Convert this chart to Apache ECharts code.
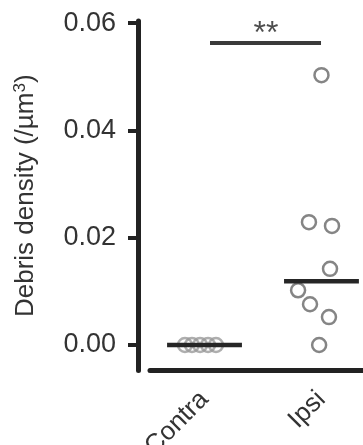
<!DOCTYPE html>
<html>
<head>
<meta charset="utf-8">
<script src="https://cdn.jsdelivr.net/npm/echarts@6/dist/echarts.min.js"></script>
<style>
html,body{margin:0;padding:0;background:#fff;}
#c{width:363px;height:445px;}
</style>
</head>
<body>
<div id="c"></div>
<script>
// ---- data ----
const categories = ['Contra', 'Ipsi'];
const contraValues = [0, 0, 0, 0, 0];
const contraJitter = [-0.167, -0.107, -0.038, 0.03, 0.098];
const ipsiValues = [0.0503, 0.0229, 0.0222, 0.0142, 0.0102, 0.0076, 0.0052, 0.0];
const ipsiJitter = [0, -0.107, 0.09, 0.073, -0.2, -0.098, 0.064, -0.02];
const medians = [0.0, 0.0119];
const yTicks = [0, 0.02, 0.04, 0.06];
const sigValue = 0.0563;
const sigLabel = '**';

// ---- chart ----
const FONT = 'Liberation Sans, Arial, Helvetica, sans-serif';
const MED_HALF = 0.32;
const chart = echarts.init(document.getElementById('c'), null, {renderer: 'canvas'});

const medianSeries = medians.map((m, i) => ({
  type: 'line',
  data: [[i + 1 - MED_HALF, m], [i + 1 + MED_HALF, m]],
  symbol: 'none',
  lineStyle: {color: '#262626', width: 4.5, cap: 'butt'},
  z: 4,
  silent: true
}));

const option = {
  animation: false,
  backgroundColor: '#fff',
  grid: {left: 150, right: 0, top: 21, bottom: 74.5, containLabel: false, outerBoundsMode: 'none'},
  xAxis: {
    type: 'value',
    min: 0.534,
    max: 2.355,
    axisLine: {show: true, onZero: false, lineStyle: {color: '#222', width: 5}},
    axisTick: {show: false},
    splitLine: {show: false},
    axisLabel: {
      customValues: [1, 2],
      formatter: v => categories[Math.round(v) - 1],
      rotate: 45,
      fontSize: 26,
      fontFamily: FONT,
      color: '#333',
      margin: 25
    }
  },
  yAxis: {
    type: 'value',
    min: -0.00475,
    max: 0.0604,
    offset: 12,
    axisLine: {show: true, onZero: false, lineStyle: {color: '#222', width: 5}},
    axisTick: {show: true, customValues: yTicks, length: 10, lineStyle: {color: '#222', width: 4}},
    axisLabel: {
      customValues: yTicks,
      formatter: v => v.toFixed(2),
      fontSize: 27,
      fontFamily: FONT,
      color: '#333',
      margin: 22
    },
    splitLine: {show: false},
    name: 'Debris density (/µm{sup|3})',
    nameLocation: 'middle',
    nameRotate: 90,
    nameGap: 98,
    nameTextStyle: {
      fontSize: 26,
      fontFamily: FONT,
      color: '#333',
      rich: {
        sup: {fontSize: 17, fontFamily: FONT, color: '#333', verticalAlign: 'top', lineHeight: 28}
      }
    }
  },
  series: [
    ...medianSeries,
    {
      type: 'scatter',
      data: contraValues.map((v, k) => [1 + contraJitter[k], v]),
      symbol: 'circle',
      symbolSize: 14,
      itemStyle: {color: 'rgba(255,255,255,0)', borderColor: '#9a9a9a', borderWidth: 2.5},
      z: 3
    },
    {
      type: 'scatter',
      data: ipsiValues.map((v, k) => [2 + ipsiJitter[k], v]),
      symbol: 'circle',
      symbolSize: 14,
      itemStyle: {color: 'rgba(255,255,255,0)', borderColor: '#666', borderWidth: 2.5},
      z: 3
    },
    {
      type: 'line',
      data: [[1.047, sigValue], [1.996, sigValue]],
      symbol: 'none',
      lineStyle: {color: '#3a3a3a', width: 4, cap: 'butt'},
      z: 4,
      silent: true
    },
    {
      type: 'scatter',
      data: [[1.525, sigValue]],
      symbolSize: 0,
      label: {
        show: true,
        position: 'top',
        distance: -7,
        formatter: sigLabel,
        fontSize: 32,
        fontFamily: FONT,
        color: '#222'
      },
      z: 5
    }
  ]
};
chart.setOption(option);
</script>
</body>
</html>
